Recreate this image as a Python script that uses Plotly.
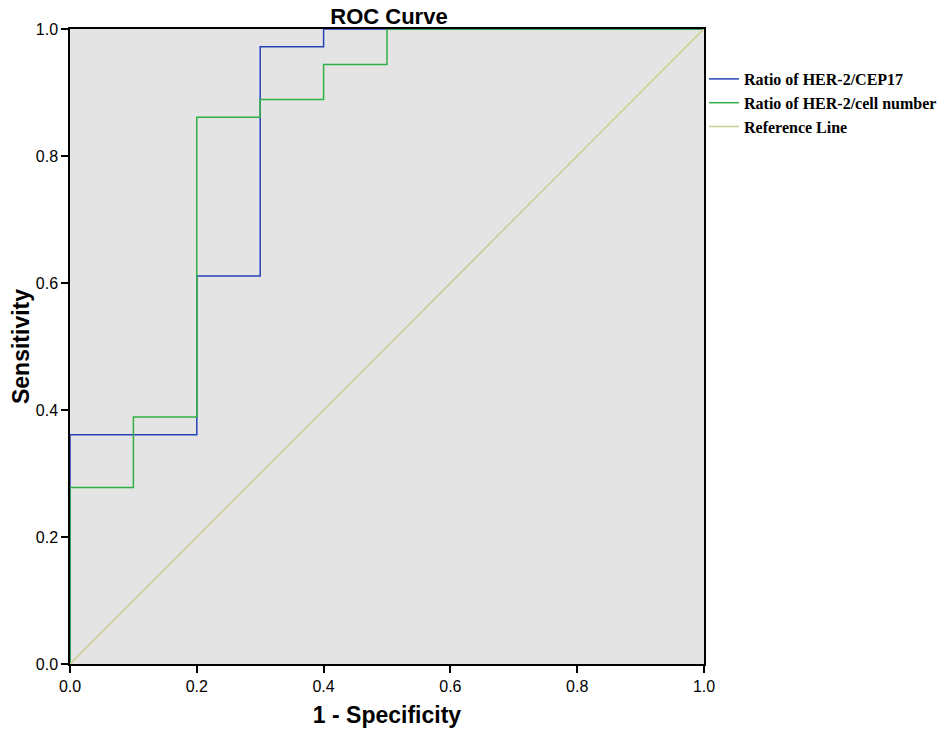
import plotly.graph_objects as go

# ROC points (1 - specificity, sensitivity)
fpr_cep17 = [0.0, 0.0, 0.2, 0.2, 0.3, 0.3, 0.4, 0.4, 1.0]
tpr_cep17 = [0.0, 0.361, 0.361, 0.611, 0.611, 0.972, 0.972, 1.0, 1.0]

fpr_cell = [0.0, 0.0, 0.1, 0.1, 0.2, 0.2, 0.3, 0.3, 0.4, 0.4, 0.5, 0.5, 1.0]
tpr_cell = [0.0, 0.278, 0.278, 0.389, 0.389, 0.861, 0.861, 0.889, 0.889, 0.944, 0.944, 1.0, 1.0]

ref_line = [0.0, 1.0]

tick_vals = [0.0, 0.2, 0.4, 0.6, 0.8, 1.0]
tick_text = ['0.0', '0.2', '0.4', '0.6', '0.8', '1.0']

fig = go.Figure()
fig.add_trace(go.Scatter(x=fpr_cep17, y=tpr_cep17, mode='lines',
                         name='<b>Ratio of HER-2/CEP17</b>',
                         line=dict(color='#2443b8', width=1.5)))
fig.add_trace(go.Scatter(x=fpr_cell, y=tpr_cell, mode='lines',
                         name='<b>Ratio of HER-2/cell number</b>',
                         line=dict(color='#2fb044', width=1.5)))
fig.add_trace(go.Scatter(x=ref_line, y=ref_line, mode='lines',
                         name='<b>Reference Line</b>',
                         line=dict(color='#cbcb8c', width=1.5)))

axis_style = dict(
    range=[0, 1], tickvals=tick_vals, ticktext=tick_text,
    showgrid=False, zeroline=False, automargin=False, layer='above traces',
    showline=True, linecolor='black', linewidth=1.5, mirror=True,
    ticks='outside', ticklen=7, tickwidth=1.5, tickcolor='black',
    tickfont=dict(family='Arial, Liberation Sans', size=16, color='black'),
)

fig.update_xaxes(**axis_style,
                 title=dict(text='<b>1 - Specificity</b>', standoff=14,
                            font=dict(family='Arial, Liberation Sans', size=23, color='black')))
fig.update_yaxes(**axis_style,
                 title=dict(text='<b>Sensitivity</b>', standoff=3,
                            font=dict(family='Arial, Liberation Sans', size=23, color='black')))

# page body adds 8px offset, so the figure is sized a bit smaller
fig.update_layout(
    width=937, height=720,
    margin=dict(l=62, r=239, t=21, b=64),
    plot_bgcolor='#e4e4e4',
    paper_bgcolor='white',
    title=dict(text='<b>ROC Curve</b>', x=0.4066, xanchor='center', y=0.9885, yanchor='middle',
               automargin=False,
               font=dict(family='Arial, Liberation Sans', size=22, color='black')),
    legend=dict(xref='container', yref='container', x=0.7428, xanchor='left',
                y=0.925, yanchor='top',
                bgcolor='rgba(0,0,0,0)', tracegroupgap=0, itemwidth=30,
                font=dict(family='Times New Roman, Liberation Serif', size=16, color='black')),
    showlegend=True,
)

fig.write_html('out.html')
